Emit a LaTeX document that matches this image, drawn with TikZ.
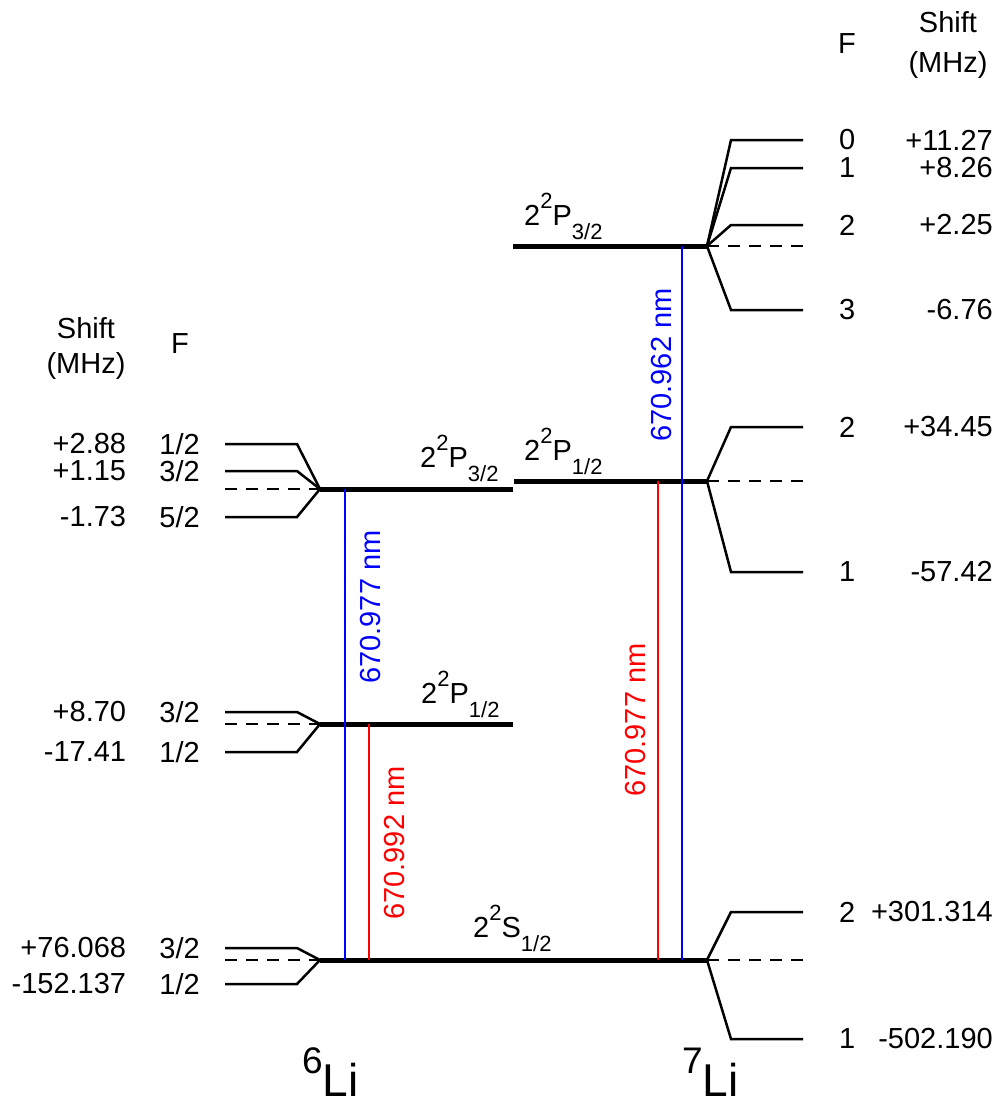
\documentclass[tikz,border=0pt]{standalone}
\usepackage{fontspec}
\setmainfont{Liberation Sans}
\usetikzlibrary{positioning}
\newcommand{\term}[2]{2\raisebox{17pt}{\fontsize{22}{22}\selectfont 2}#1\raisebox{-14pt}{\fontsize{22}{22}\selectfont #2}}
\newcommand{\iso}[1]{\raisebox{23pt}{\fontsize{37}{37}\selectfont #1}Li}

\begin{document}
\begin{tikzpicture}[x=1pt,y=-1pt]
    \tikzstyle{level}=[line width=5pt]
    \tikzstyle{sub}=[line width=2.5pt]
    \tikzstyle{mid}=[line width=2.5pt, dash pattern=on 12pt off 9pt]
    \tikzstyle{txt}=[font=\fontsize{29}{35}\selectfont, inner sep=0pt]
    \tikzstyle{wave}=[txt, rotate=90]
    \tikzstyle{blueline}=[line width=2.7pt, draw=blue]
    \tikzstyle{redline}=[line width=2.7pt, draw=red]
    \useasboundingbox (0,0) rectangle (1002,1108);

      % 6Li levels
      \coordinate (p3a) at (320,489);
      \coordinate (p3b) at (513,489);
      \coordinate (p1a) at (320,724);
      \coordinate (p1b) at (513,724);
      \coordinate (sa) at (320,960);
      \coordinate (sb) at (707,960);
      \coordinate (f1) at (225,444);
      \coordinate (f2) at (225,471);
      \coordinate (fc) at (225,489);
      \coordinate (f3) at (225,517);
      \coordinate (e1) at (225,712);
      \coordinate (ec) at (225,724);
      \coordinate (e2) at (225,752);
      \coordinate (d1) at (225,948);
      \coordinate (dc) at (225,960);
      \coordinate (d2) at (225,984);

      % 7Li levels
      \coordinate (q3a) at (513,246);
      \coordinate (q3b) at (707,246);
      \coordinate (q1a) at (514,481);
      \coordinate (q1b) at (707,481);
      \coordinate (g0) at (803,140);
      \coordinate (g1) at (803,168);
      \coordinate (g2) at (803,225);
      \coordinate (gc) at (803,246);
      \coordinate (g3) at (803,310);
      \coordinate (h2) at (803,427);
      \coordinate (hc) at (803,481);
      \coordinate (h1) at (803,572);
      \coordinate (k2) at (803,912);
      \coordinate (kc) at (803,960);
      \coordinate (k1) at (803,1039);

      \draw[level] (p3a) -- (p3b);
      \draw[level] (p1a) -- (p1b);
      \draw[level] (sa) -- (sb);
      \draw[level] (q3a) -- (q3b);
      \draw[level] (q1a) -- (q1b);

      \draw[sub] (p3a) -- ([xshift=72pt]f1) -- (f1);
      \draw[sub] (p3a) -- ([xshift=72pt]f2) -- (f2);
      \draw[sub] (p3a) -- ([xshift=72pt]f3) -- (f3);
      \draw[mid] (fc) -- (p3a);
      \draw[sub] (p1a) -- ([xshift=72pt]e1) -- (e1);
      \draw[sub] (p1a) -- ([xshift=72pt]e2) -- (e2);
      \draw[mid] (ec) -- (p1a);
      \draw[sub] (sa) -- ([xshift=72pt]d1) -- (d1);
      \draw[sub] (sa) -- ([xshift=72pt]d2) -- (d2);
      \draw[mid] (dc) -- (sa);

      \draw[sub] (q3b) -- ([xshift=-72pt]g0) -- (g0);
      \draw[sub] (q3b) -- ([xshift=-72pt]g1) -- (g1);
      \draw[sub] (q3b) -- ([xshift=-72pt]g2) -- (g2);
      \draw[sub] (q3b) -- ([xshift=-72pt]g3) -- (g3);
      \draw[mid] (gc) -- (q3b);
      \draw[sub] (q1b) -- ([xshift=-72pt]h2) -- (h2);
      \draw[sub] (q1b) -- ([xshift=-72pt]h1) -- (h1);
      \draw[mid] (hc) -- (q1b);
      \draw[sub] (sb) -- ([xshift=-72pt]k2) -- (k2);
      \draw[sub] (sb) -- ([xshift=-72pt]k1) -- (k1);
      \draw[mid] (kc) -- (sb);

      % transitions
      \coordinate (b6top) at (345,489);
      \coordinate (b6bot) at (345,960);
      \coordinate (r6top) at (369,724);
      \coordinate (r6bot) at (369,960);
      \coordinate (r7top) at (658,481);
      \coordinate (r7bot) at (658,960);
      \coordinate (b7top) at (682,246);
      \coordinate (b7bot) at (682,960);
      \path (b6top) edge [blueline] (b6bot);
      \path (r6top) edge [redline] (r6bot);
      \path (r7top) edge [redline] (r7bot);
      \path (b7top) edge [blueline] (b7bot);
      \node[wave, blue] (wb6) at (371,607) {670.977 nm};
      \node[wave, red] (wr6) at (395,843) {670.992 nm};
      \node[wave, red] (wr7) at (636,720) {670.977 nm};
      \node[wave, blue] (wb7) at (662,365) {670.962 nm};

      % state names
      \node[txt, anchor=base west] (n6p3) at (420,467) {\term{P}{3/2}};
      \node[txt, anchor=base west] (n6p1) at (421,703) {\term{P}{1/2}};
      \node[txt, anchor=base west] (ns) at (473,937) {\term{S}{1/2}};
      \node[txt, anchor=base west] (n7p1) at (524,460) {\term{P}{1/2}};
      \node[txt, anchor=base west] (n7p3) at (524,225) {\term{P}{3/2}};
      \node[anchor=base west, inner sep=0pt, font=\fontsize{46}{46}\selectfont] (li6) at (302,1096) {\iso{6}};
      \node[anchor=base west, inner sep=0pt, font=\fontsize{46}{46}\selectfont] (li7) at (682,1096) {\iso{7}};

      % 6Li columns
      \node[txt, anchor=base] (hs6) at (86,338) {Shift};
      \node[txt, anchor=base] (hm6) at (86,373) {(MHz)};
      \node[txt, anchor=base] (hf6) at (180,353) {F};
      \node[txt, left=25pt of f1] (F1) {1/2};
      \node[txt, left=33pt of F1] {+2.88};
      \node[txt, left=25pt of f2] (F2) {3/2};
      \node[txt, left=33pt of F2] {+1.15};
      \node[txt, left=25pt of f3] (F3) {5/2};
      \node[txt, left=33pt of F3] {-1.73};
      \node[txt, left=25pt of e1] (E1) {3/2};
      \node[txt, left=33pt of E1] {+8.70};
      \node[txt, left=25pt of e2] (E2) {1/2};
      \node[txt, left=33pt of E2] {-17.41};
      \node[txt, left=25pt of d1] (D1) {3/2};
      \node[txt, left=33pt of D1] {+76.068};
      \node[txt, left=25pt of d2] (D2) {1/2};
      \node[txt, left=33pt of D2] {-152.137};

      % 7Li columns
      \node[txt, anchor=base] (hf7) at (847,53) {F};
      \node[txt, anchor=base] (hs7) at (948,33) {Shift};
      \node[txt, anchor=base] (hm7) at (948,72) {(MHz)};
      \node[txt, right=36pt of g0] (G0) {0};
      \node[txt, anchor=east] at ([xshift=190pt]g0) {+11.27};
      \node[txt, right=36pt of g1] (G1) {1};
      \node[txt, anchor=east] at ([xshift=190pt]g1) {+8.26};
      \node[txt, right=36pt of g2] (G2) {2};
      \node[txt, anchor=east] at ([xshift=190pt]g2) {+2.25};
      \node[txt, right=36pt of g3] (G3) {3};
      \node[txt, anchor=east] at ([xshift=190pt]g3) {-6.76};
      \node[txt, right=36pt of h2] (H2) {2};
      \node[txt, anchor=east] at ([xshift=190pt]h2) {+34.45};
      \node[txt, right=36pt of h1] (H1) {1};
      \node[txt, anchor=east] at ([xshift=190pt]h1) {-57.42};
      \node[txt, right=36pt of k2] (K2) {2};
      \node[txt, anchor=east] at ([xshift=190pt]k2) {+301.314};
      \node[txt, right=36pt of k1] (K1) {1};
      \node[txt, anchor=east] at ([xshift=190pt]k1) {-502.190};
\end{tikzpicture}
\end{document}
